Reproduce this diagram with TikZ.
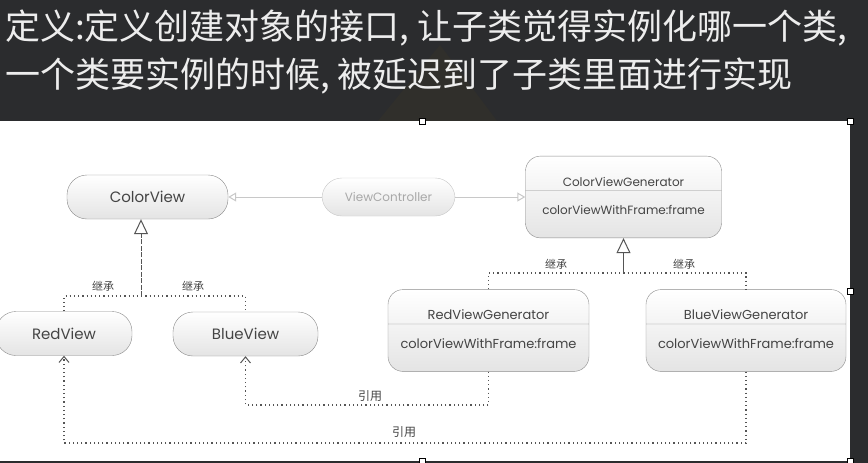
\documentclass[tikz,border=0pt]{standalone}
\usepackage{fontspec}
\setmainfont{Poppins}
\newfontfamily\cjk{Noto Sans CJK SC}
\usetikzlibrary{shapes.multipart,arrows.meta}

\definecolor{slidebg}{HTML}{2B2C2E}
\definecolor{logo}{HTML}{302F2B}
\definecolor{headtext}{HTML}{EDEDED}
\definecolor{boxline}{HTML}{8C8C8C}
\definecolor{boxfill}{HTML}{E4E4E4}
\definecolor{boxtext}{HTML}{444444}
\definecolor{pale}{HTML}{C8C8C8}
\definecolor{paletext}{HTML}{A8A8A8}
\definecolor{linegray}{HTML}{555555}

\newcommand{\headstrut}{\rule[-4pt]{0pt}{34pt}}
\newcommand{\bodystrut}{\rule[-23pt]{0pt}{47pt}}

\begin{document}
\begin{tikzpicture}
[x=1pt,y=-1pt,%
  pill/.style={draw=boxline,rounded corners=20pt,top color=white,bottom color=boxfill,
    inner sep=0pt,minimum height=44pt,font=\fontsize{15}{18}\selectfont,text=boxtext},%
  genbox/.style={rectangle split,rectangle split parts=2,draw=boxline,rounded corners=15pt,
    top color=white,bottom color=boxfill,inner ysep=0pt,inner xsep=0pt,align=center,
    font=\fontsize{13}{15}\selectfont,text=boxtext},%
  tag/.style={font=\cjk\fontsize{11}{13}\selectfont,text=boxtext,inner sep=1pt},%
  dotline/.style={draw=linegray,line width=1.2pt,dash pattern=on 1.2pt off 3pt},%
  inherit/.style={draw=linegray,line width=1pt,-{Triangle[open,length=15pt,width=14pt]}},%
  use/.style={draw=pale,line width=1pt,-{Triangle[open,length=8pt,width=9pt]}},%
  refer/.style={dotline,-{Straight Barb[length=6pt,width=10pt,line width=1pt]}},%
  handle/.style={draw=black,fill=white,line width=1pt,minimum size=6pt,inner sep=0pt}]
\useasboundingbox (0,0) rectangle (868,463);
% slide background and title
\fill[slidebg] (0,0) rectangle (868,463);
\fill[logo] (440,45) -- (497,121) -- (378,121) -- cycle;
\fill[white] (0,121) rectangle (850,461);
\node[anchor=west,inner sep=0pt,text=headtext,font=\cjk\fontsize{35}{40}\selectfont] (line1) at (5,28)
  {定义:定义创建对象的接口, 让子类觉得实例化哪一个类,};
\node[anchor=west,inner sep=0pt,text=headtext,font=\cjk\fontsize{35}{40}\selectfont] (line2) at (5,76)
  {一个类要实例的时候, 被延迟到了子类里面进行实现};
% classes
\node[pill,minimum width=161pt] (colorview) at (147.5,197) {ColorView};
\node[pill,minimum width=133pt,minimum height=38pt,draw=pale,text=paletext,
  font=\fontsize{12}{14}\selectfont] (ctrl) at (388.5,197) {ViewController};
\node[genbox,text width=196pt,font=\fontsize{12}{14}\selectfont] (cvgen) at (623.5,197)
  {\headstrut ColorViewGenerator\nodepart{second}\bodystrut colorViewWithFrame:frame};
\node[pill,minimum width=136pt] (redview) at (64,333.5) {RedView};
\node[pill,minimum width=145pt] (blueview) at (245.5,334) {BlueView};
\node[genbox,text width=201pt] (rvgen) at (488.5,330.5)
  {\headstrut RedViewGenerator\nodepart{second}\bodystrut colorViewWithFrame:frame};
\node[genbox,text width=200pt] (bvgen) at (746,330.5)
  {\headstrut BlueViewGenerator\nodepart{second}\bodystrut colorViewWithFrame:frame};
% uses
\draw[use] (ctrl) -- (colorview);
\draw[use] (ctrl) -- (cvgen.west |- ctrl);
% inheritance
\coordinate (cvjoin) at (141,296);
\coordinate (genjoin) at (cvgen.south |- 0,273);
\draw[inherit,dash pattern=on 5pt off 1.5pt] (cvjoin) -- (cvjoin |- colorview.south);
\draw[dotline] (redview.north) |- (cvjoin) -| (blueview.north);
\draw[inherit] (genjoin) -- (cvgen.south);
\draw[dotline] (rvgen.north) |- (genjoin) -| (bvgen.north);
\node[tag] (inh1) at (103,286) {继承};
\node[tag] (inh2) at (193,286) {继承};
\node[tag] (inh3) at (556,264) {继承};
\node[tag] (inh4) at (684,264) {继承};
% references
\coordinate (ref1) at (blueview.south |- 0,405);
\coordinate (ref2) at (redview.south |- 0,443);
\draw[refer] (rvgen.south) |- (ref1) -- (blueview.south);
\draw[refer] (bvgen.south) |- (ref2) -- (redview.south);
\node[tag,font=\cjk\fontsize{12}{14}\selectfont] (ref1label) at (370,396) {引用};
\node[tag,font=\cjk\fontsize{12}{14}\selectfont] (ref2label) at (404,432) {引用};
% selection handles
\foreach \hx/\hy in {422/121,850/121,850/291,422/461,850/461}
  \node[handle] at (\hx,\hy) {};
\end{tikzpicture}
\end{document}
